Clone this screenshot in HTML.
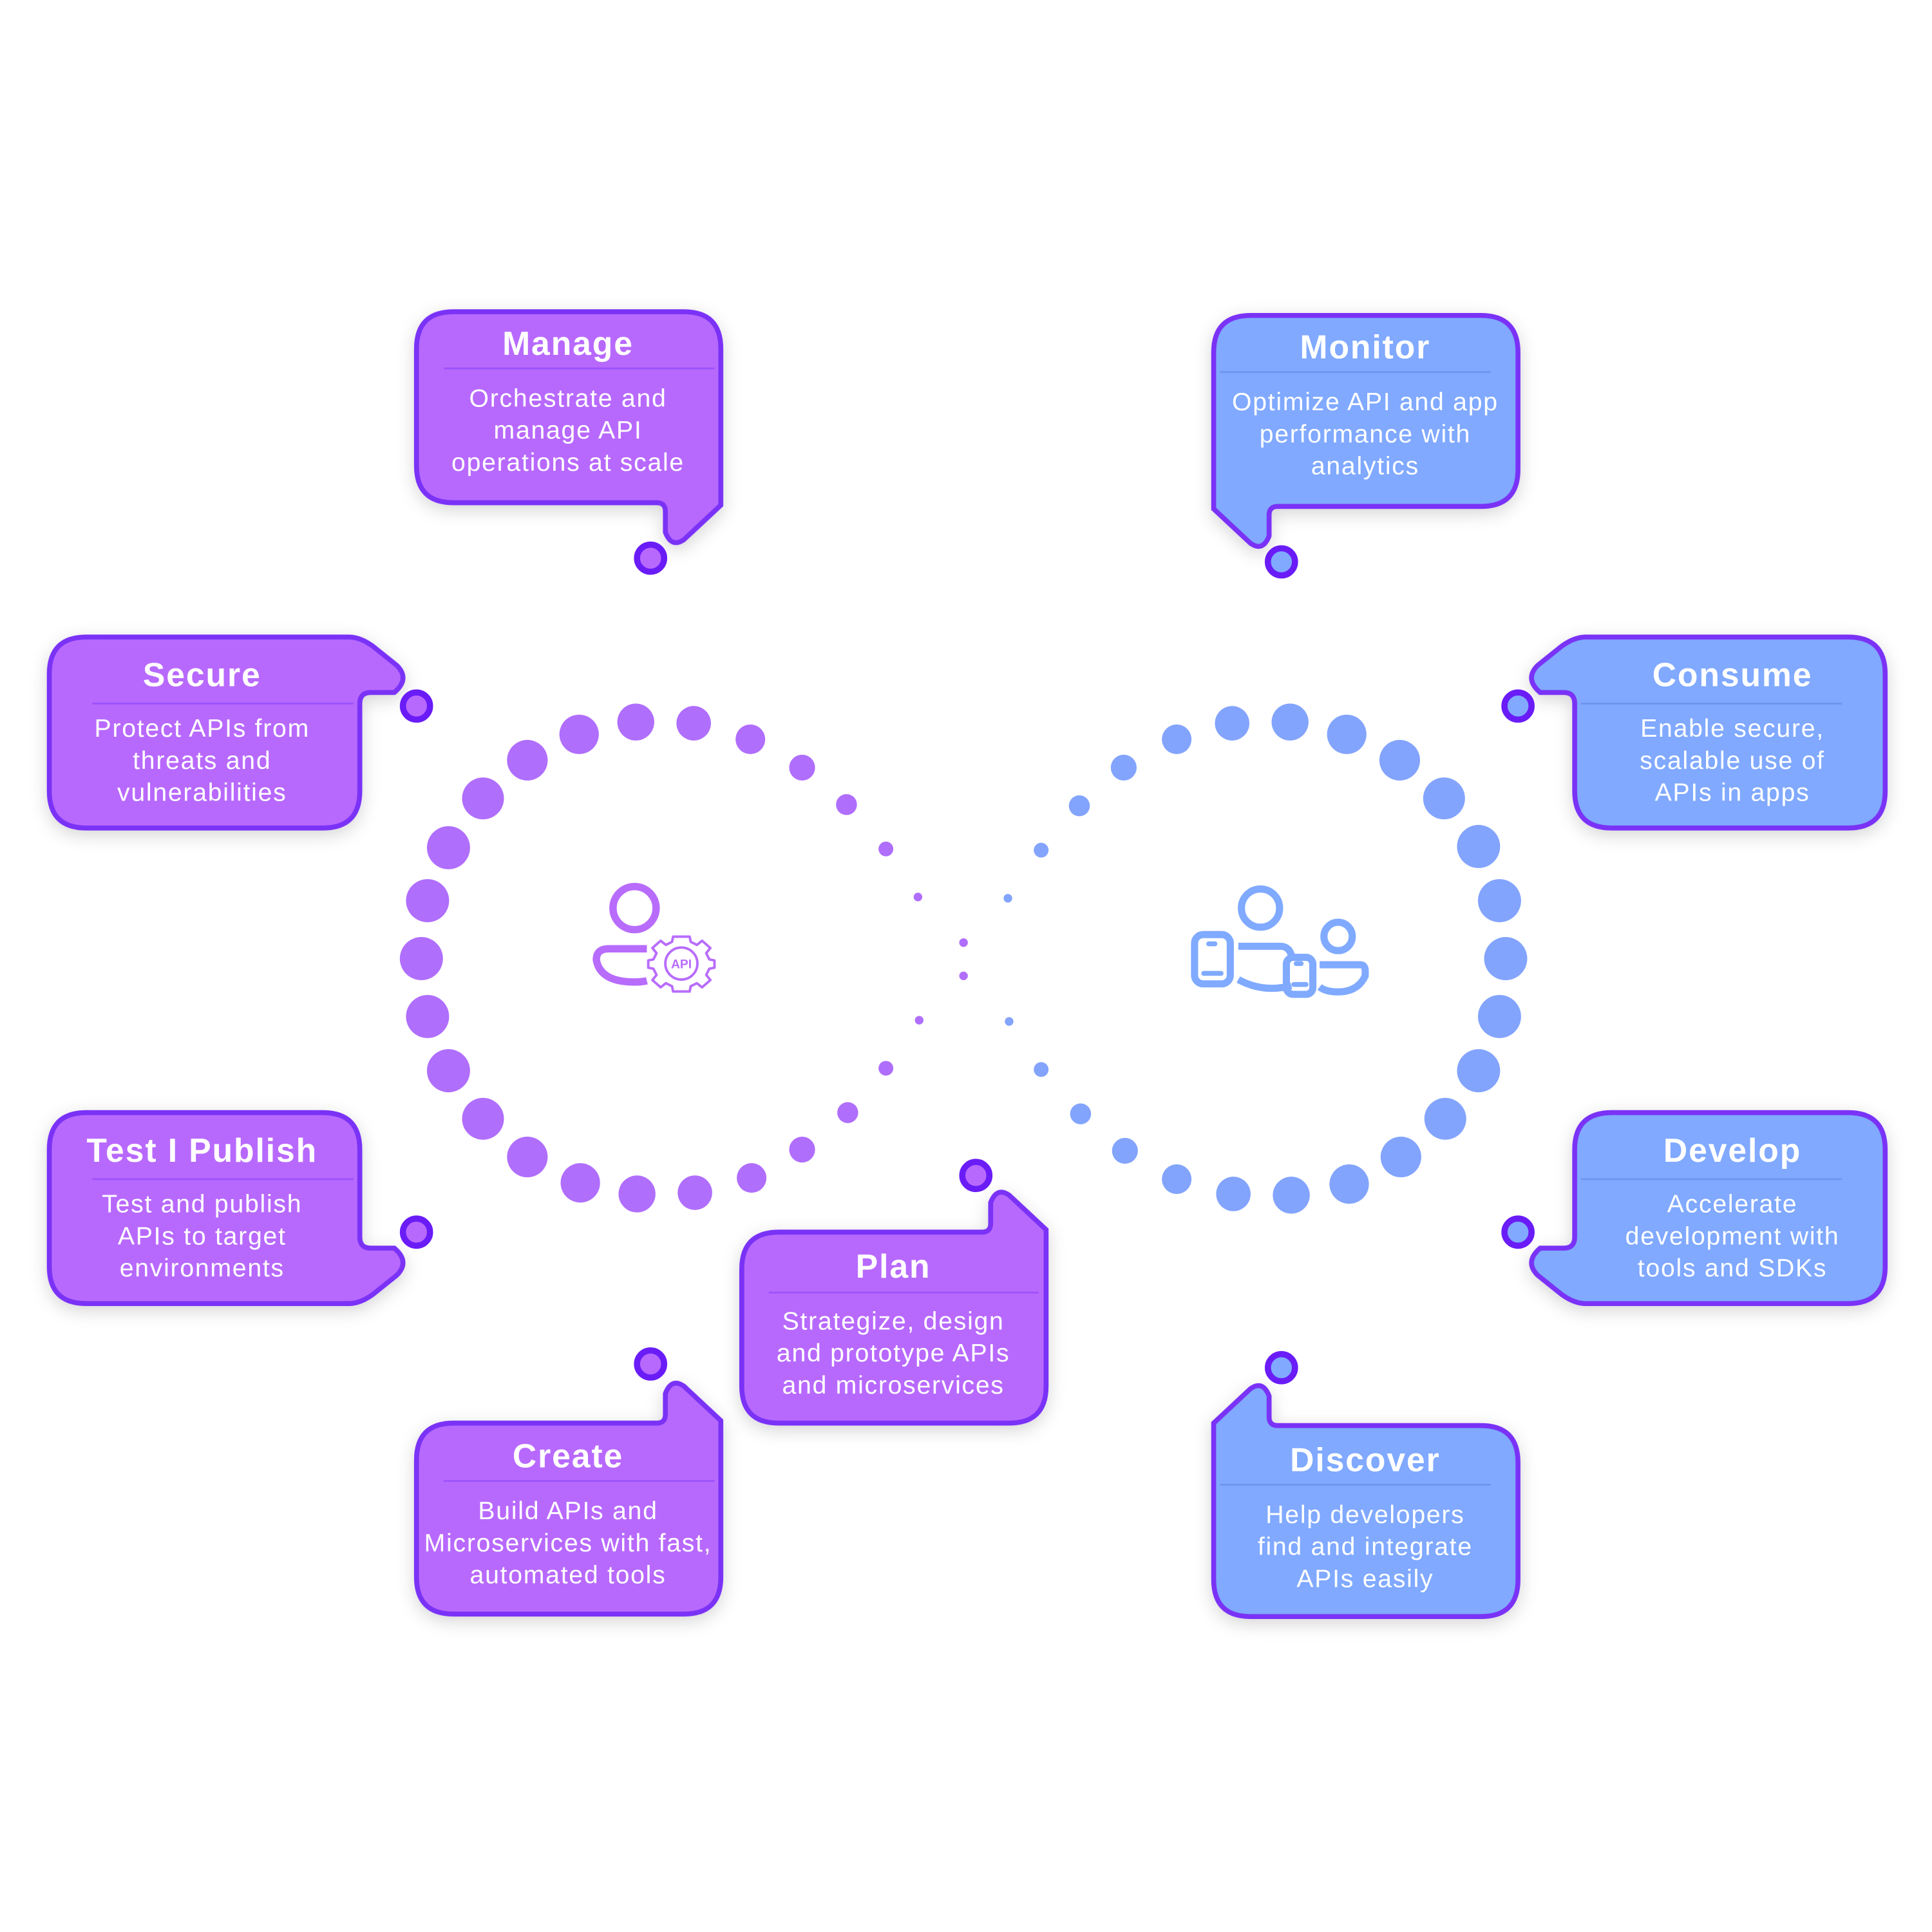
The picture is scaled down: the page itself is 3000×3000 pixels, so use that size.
<!DOCTYPE html>
<html><head><meta charset="utf-8"><style>
html,body{margin:0;padding:0;background:#fff;}
svg{display:block;}
text{font-family:"Liberation Sans",sans-serif;fill:#fff;text-anchor:middle;}
.t{font-weight:bold;font-size:27px;letter-spacing:1px;}
.b{font-size:20.5px;letter-spacing:0.9px;}
</style></head><body>
<svg width="3000" height="3000" viewBox="0 0 1568 1568" xmlns="http://www.w3.org/2000/svg">
<defs>
<filter id="sh" x="-20%" y="-20%" width="140%" height="140%">
<feDropShadow dx="0" dy="4" stdDeviation="7" flood-color="#000" flood-opacity="0.16"/>
</filter>
<path id="mg" d="M30 0 H217 Q247 0 247 30 V157 L217 185 Q207 192 202 179 V162 Q202 155 195 155 H30 Q0 155 0 125 V30 Q0 0 30 0 Z"/>
<path id="sc" d="M30 0 H243 Q252 0 262 7 L282 23 Q293 34 280 45 H261 Q252 45 252 54 V125 Q252 155 222 155 H30 Q0 155 0 125 V30 Q0 0 30 0 Z"/>
</defs>

<g fill="#b06efc">
<circle cx="470" cy="596" r="16"/><circle cx="516" cy="586" r="15"/><circle cx="563" cy="587" r="14"/>
<circle cx="609" cy="600" r="12"/><circle cx="651" cy="623" r="10.5"/><circle cx="687" cy="653" r="8.5"/>
<circle cx="719" cy="689" r="6"/><circle cx="745" cy="728" r="3.5"/><circle cx="782" cy="765" r="3.5"/>
<circle cx="428" cy="617" r="16.5"/><circle cx="392" cy="648" r="17"/><circle cx="364" cy="688" r="17.5"/>
<circle cx="347" cy="731" r="17.5"/><circle cx="342" cy="778" r="17.5"/><circle cx="347" cy="825" r="17.5"/>
<circle cx="364" cy="869" r="17.5"/><circle cx="392" cy="908" r="17"/><circle cx="428" cy="939" r="16.5"/>
<circle cx="471" cy="960" r="16"/><circle cx="517" cy="969" r="15"/><circle cx="564" cy="968" r="14"/>
<circle cx="610" cy="956" r="12"/><circle cx="651" cy="933" r="10.5"/><circle cx="688" cy="903" r="8.5"/>
<circle cx="719" cy="867" r="6"/><circle cx="746" cy="828" r="3.5"/><circle cx="782" cy="792" r="3.5"/>
</g>
<g fill="#83a4fd">
<circle cx="1000" cy="587" r="14"/><circle cx="1047" cy="586" r="15"/><circle cx="1093" cy="596" r="16"/>
<circle cx="1136" cy="617" r="16.5"/><circle cx="1172" cy="648" r="17"/><circle cx="1200" cy="687" r="17.5"/>
<circle cx="1217" cy="731" r="17.5"/><circle cx="1222" cy="778" r="17.5"/><circle cx="1217" cy="825" r="17.5"/>
<circle cx="1200" cy="869" r="17.5"/><circle cx="1173" cy="908" r="17"/><circle cx="1137" cy="939" r="16.5"/>
<circle cx="1095" cy="961" r="16"/><circle cx="1048" cy="970" r="15"/><circle cx="1001" cy="969" r="14"/>
<circle cx="955" cy="957" r="12"/><circle cx="913" cy="934" r="10.5"/><circle cx="877" cy="904" r="8.5"/>
<circle cx="845" cy="868" r="6"/><circle cx="819" cy="829" r="3.5"/>
<circle cx="955" cy="600" r="12"/><circle cx="912" cy="623" r="10.5"/><circle cx="876" cy="654" r="8.5"/>
<circle cx="845" cy="690" r="6"/><circle cx="818" cy="729" r="3.5"/>
</g>

<g fill="none" stroke="#b86cfc" stroke-width="6">
<circle cx="515" cy="737" r="17.5"/>
<path d="M525 770 H494 Q484 770 484 779 Q487 797 515 797 Q521 797 525 796"/>
</g>
<g transform="translate(553,782) scale(0.84) translate(-553,-782)">
<g fill="none" stroke="#b86cfc" stroke-width="2.4" stroke-linejoin="round">
<path d="M545 757 H561 L562 762 L568 765 L573 761 L581 768 L577 773 L580 779 L585 780 V787 L580 788 L577 794 L581 799 L573 806 L568 802 L562 805 L561 810 H545 L544 805 L538 802 L533 806 L525 799 L529 794 L526 788 L521 787 V780 L526 779 L529 773 L525 768 L533 761 L538 765 L544 762 Z" transform="translate(0,-1)"/>
<circle cx="553" cy="782" r="15.5"/>
</g>
<text x="553" y="786.5" style="font-weight:bold;font-size:12px;fill:#b86cfc">API</text>
</g>

<g fill="none" stroke="#80aaff" stroke-width="5.8">
<circle cx="1023" cy="737" r="15.5"/>
<circle cx="1086" cy="760" r="11.5"/>
<path d="M1005 768 H1039 Q1046 768 1048 775"/>
<path d="M1005 795 Q1025 806 1048 800"/>
<path d="M1071 783 H1104 Q1108 783 1108 788 V792 Q1102 805 1086 805 Q1076 805 1071 801"/>
<rect x="969.5" y="758.5" width="29" height="40" rx="7"/>
<rect x="1044" y="777" width="21.5" height="30" rx="5.5"/>
</g>
<g stroke="#80aaff" stroke-width="4" stroke-linecap="round">
<line x1="981" y1="766" x2="986" y2="766"/><line x1="977" y1="790" x2="991" y2="790"/>
<line x1="1052" y1="782" x2="1056" y2="782"/><line x1="1050" y1="799" x2="1060" y2="799"/>
</g>

<g filter="url(#sh)" stroke="#7a33f6" stroke-width="4">
<use href="#mg" transform="translate(338,253)" fill="#b869fd"/>
<use href="#mg" transform="translate(1232,256) scale(-1,1)" fill="#80a9ff"/>
<use href="#mg" transform="translate(338,1310) scale(1,-1)" fill="#b869fd"/>
<use href="#mg" transform="translate(602,1155) scale(1,-1)" fill="#b869fd"/>
<use href="#mg" transform="translate(1232,1312) scale(-1,-1)" fill="#80a9ff"/>
<use href="#sc" transform="translate(40,517)" fill="#b869fd"/>
<use href="#sc" transform="translate(40,1058) scale(1,-1)" fill="#b869fd"/>
<use href="#sc" transform="translate(1530,517) scale(-1,1)" fill="#80a9ff"/>
<use href="#sc" transform="translate(1530,1058) scale(-1,-1)" fill="#80a9ff"/>
</g>

<g stroke="#6a1cf7" stroke-width="5">
<circle cx="528" cy="453" r="11" fill="#b869fd"/>
<circle cx="1040" cy="456" r="11" fill="#80a9ff"/>
<circle cx="338" cy="573" r="11" fill="#b869fd"/>
<circle cx="1232" cy="573" r="11" fill="#80a9ff"/>
<circle cx="338" cy="1000" r="11" fill="#b869fd"/>
<circle cx="1232" cy="1000" r="11" fill="#80a9ff"/>
<circle cx="792" cy="954" r="11" fill="#b869fd"/>
<circle cx="528" cy="1107" r="11" fill="#b869fd"/>
<circle cx="1040" cy="1110" r="11" fill="#80a9ff"/>
</g>

<g stroke-width="1.5">
<line x1="360" y1="299" x2="580" y2="299" stroke="#9e52fb"/>
<line x1="990" y1="302" x2="1210" y2="302" stroke="#6f95f0"/>
<line x1="75" y1="571" x2="287" y2="571" stroke="#9e52fb"/>
<line x1="1283" y1="571" x2="1495" y2="571" stroke="#6f95f0"/>
<line x1="75" y1="957" x2="287" y2="957" stroke="#9e52fb"/>
<line x1="1283" y1="957" x2="1495" y2="957" stroke="#6f95f0"/>
<line x1="624" y1="1049" x2="843" y2="1049" stroke="#9e52fb"/>
<line x1="360" y1="1202" x2="580" y2="1202" stroke="#9e52fb"/>
<line x1="990" y1="1205" x2="1210" y2="1205" stroke="#6f95f0"/>
</g>

<text class="t" x="461" y="288">Manage</text>
<text class="b" x="461" y="330">Orchestrate and</text>
<text class="b" x="461" y="356">manage API</text>
<text class="b" x="461" y="382">operations at scale</text>

<text class="t" x="1108" y="291">Monitor</text>
<text class="b" x="1108" y="333">Optimize API and app</text>
<text class="b" x="1108" y="359">performance with</text>
<text class="b" x="1108" y="385">analytics</text>

<text class="t" x="164" y="557">Secure</text>
<text class="b" x="164" y="598">Protect APIs from</text>
<text class="b" x="164" y="624">threats and</text>
<text class="b" x="164" y="650">vulnerabilities</text>

<text class="t" x="1406" y="557">Consume</text>
<text class="b" x="1406" y="598">Enable secure,</text>
<text class="b" x="1406" y="624">scalable use of</text>
<text class="b" x="1406" y="650">APIs in apps</text>

<text class="t" x="164" y="943">Test I Publish</text>
<text class="b" x="164" y="984">Test and publish</text>
<text class="b" x="164" y="1010">APIs to target</text>
<text class="b" x="164" y="1036">environments</text>

<text class="t" x="1406" y="943">Develop</text>
<text class="b" x="1406" y="984">Accelerate</text>
<text class="b" x="1406" y="1010">development with</text>
<text class="b" x="1406" y="1036">tools and SDKs</text>

<text class="t" x="725" y="1037">Plan</text>
<text class="b" x="725" y="1079">Strategize, design</text>
<text class="b" x="725" y="1105">and prototype APIs</text>
<text class="b" x="725" y="1131">and microservices</text>

<text class="t" x="461" y="1191">Create</text>
<text class="b" x="461" y="1233">Build APIs and</text>
<text class="b" x="461" y="1259">Microservices with fast,</text>
<text class="b" x="461" y="1285">automated tools</text>

<text class="t" x="1108" y="1194">Discover</text>
<text class="b" x="1108" y="1236">Help developers</text>
<text class="b" x="1108" y="1262">find and integrate</text>
<text class="b" x="1108" y="1288">APIs easily</text>
</svg>
</body></html>
